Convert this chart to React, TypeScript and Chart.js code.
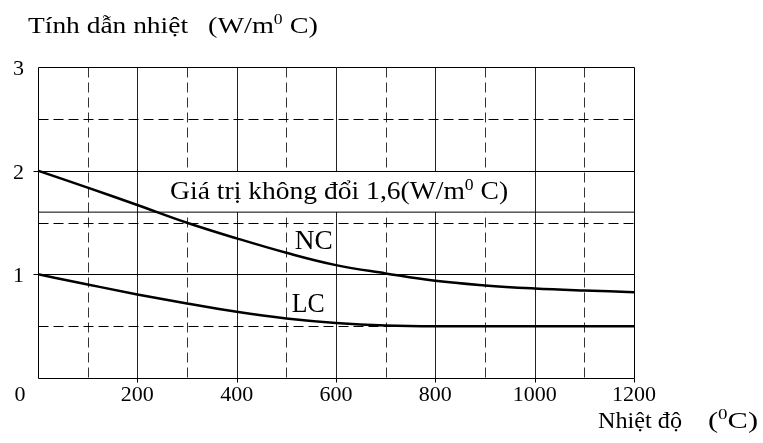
import React, { useEffect, useRef } from "react";
import { Chart, registerables } from "chart.js";

Chart.register(...registerables);

const temps = [0, 100, 200, 300, 400, 500, 600, 700, 800, 900, 1000, 1100, 1200];
const ncValues = [2.0, 1.836, 1.669, 1.498, 1.347, 1.208, 1.089, 1.009, 0.937, 0.893, 0.864, 0.844, 0.828];
const lcValues = [1.0, 0.902, 0.806, 0.719, 0.638, 0.574, 0.531, 0.507, 0.5, 0.5, 0.5, 0.5, 0.5];
const constantValue = 1.6;
const xTickLabels = [200, 400, 600, 800, 1000, 1200];
const yTickLabels = [1, 2, 3];

const FONT = '"Liberation Serif", "Times New Roman", serif';

type Part = { t: string; sup?: boolean };

function drawRich(ctx: CanvasRenderingContext2D, parts: Part[], x: number, baseline: number, size: number, targetWidth?: number) {
  const supSize = Math.round(size * 0.62);
  const widths = parts.map((p) => {
    ctx.font = `${p.sup ? supSize : size}px ${FONT}`;
    return ctx.measureText(p.t).width;
  });
  const total = widths.reduce((a, b) => a + b, 0);
  const sx = targetWidth ? targetWidth / total : 1;
  ctx.save();
  ctx.translate(x, baseline);
  ctx.scale(sx, 1);
  ctx.fillStyle = "#000";
  ctx.textAlign = "left";
  ctx.textBaseline = "alphabetic";
  let cx = 0;
  parts.forEach((p, i) => {
    ctx.font = `${p.sup ? supSize : size}px ${FONT}`;
    ctx.fillText(p.t, cx, p.sup ? -size * 0.36 : 0);
    cx += widths[i];
  });
  ctx.restore();
}

const decorPlugin = {
  id: "decor",
  beforeDatasetsDraw(chart: any) {
    const ctx: CanvasRenderingContext2D = chart.ctx;
    const xs = chart.scales.x;
    const ys = chart.scales.y;
    const L = Math.round(xs.getPixelForValue(0)) + 0.5;
    const R = Math.round(xs.getPixelForValue(1200)) + 0.5;
    const T = Math.round(ys.getPixelForValue(3)) + 0.5;
    const B = Math.round(ys.getPixelForValue(0)) + 0.5;
    ctx.save();
    ctx.lineWidth = 1;
    const line = (x1: number, y1: number, x2: number, y2: number, dashed: boolean, color = "#111") => {
      ctx.beginPath();
      ctx.strokeStyle = color;
      ctx.setLineDash(dashed ? [10, 5] : []);
      ctx.moveTo(x1, y1);
      ctx.lineTo(x2, y2);
      ctx.stroke();
    };
    for (let v = 100; v < 1200; v += 100) {
      const px = Math.round(xs.getPixelForValue(v)) + 0.5;
      const dashed = v % 200 !== 0;
      line(px, T, px, B, dashed, dashed ? "#333" : "#222");
    }
    [0.5, 1, 1.5, 2, 2.5].forEach((v) => {
      const py = Math.round(ys.getPixelForValue(v)) + 0.5;
      line(L, py, R, py, v % 1 !== 0, "#000");
    });
    line(L, T, R, T, false, "#000");
    line(R, T, R, B, false, "#000");
    line(L, T, L, B, false, "#000");
    line(L, B, R, B, false, "#000");
    xTickLabels.forEach((v) => {
      const px = Math.round(xs.getPixelForValue(v)) + 0.5;
      line(px, B, px, B + 4, false, "#000");
    });
    [1, 2].forEach((v) => {
      const py = Math.round(ys.getPixelForValue(v)) + 0.5;
      line(L - 5, py, L, py, false, "#000");
    });
    const bx1 = xs.getPixelForValue(248);
    const bx2 = xs.getPixelForValue(960);
    const by1 = Math.round(ys.getPixelForValue(2)) + 1;
    const by2 = Math.round(ys.getPixelForValue(constantValue));
    ctx.fillStyle = "#fff";
    ctx.fillRect(bx1, by1, bx2 - bx1, by2 - by1);
    ctx.restore();
  },
  afterDraw(chart: any) {
    const ctx: CanvasRenderingContext2D = chart.ctx;
    const xs = chart.scales.x;
    const ys = chart.scales.y;
    ctx.save();
    ctx.fillStyle = "#000";
    ctx.font = `22px ${FONT}`;
    ctx.textAlign = "center";
    ctx.textBaseline = "alphabetic";
    xTickLabels.forEach((v) => {
      ctx.fillText(String(v), xs.getPixelForValue(v), 401);
    });
    ctx.fillText("0", 20, 401);
    ctx.textAlign = "right";
    yTickLabels.forEach((v) => {
      ctx.fillText(String(v), 24, ys.getPixelForValue(v) + 8);
    });
    ctx.restore();
    drawRich(ctx, [{ t: "Tính dẫn nhiệt" }], 28, 33, 24, 160);
    drawRich(ctx, [{ t: "(W/m" }, { t: "0", sup: true }, { t: " C)" }], 208, 33, 24, 110);
    drawRich(ctx, [{ t: "Nhiệt độ" }], 598, 428, 24, 84);
    drawRich(ctx, [{ t: "(" }, { t: "0", sup: true }, { t: "C)" }], 708, 428, 24, 50);
    drawRich(
      ctx,
      [{ t: "Giá trị không đổi 1,6(W/m" }, { t: "0", sup: true }, { t: " C)" }],
      xs.getPixelForValue(266),
      ys.getPixelForValue(1.727),
      25,
      338
    );
    drawRich(ctx, [{ t: "NC" }], xs.getPixelForValue(517), ys.getPixelForValue(1.243), 27, 38);
    drawRich(ctx, [{ t: "LC" }], xs.getPixelForValue(511), ys.getPixelForValue(0.635), 27, 33);
  },
};

export default function App() {
  const ref = useRef<HTMLCanvasElement>(null);
  useEffect(() => {
    if (!ref.current) return;
    const chart = new Chart(ref.current, {
      type: "line",
      data: {
        datasets: [
          {
            label: "NC",
            data: temps.map((t, i) => ({ x: t, y: ncValues[i] })),
            borderColor: "#000",
            borderWidth: 2.5,
            pointRadius: 0,
            tension: 0.4,
            fill: false,
          },
          {
            label: "LC",
            data: temps.map((t, i) => ({ x: t, y: lcValues[i] })),
            borderColor: "#000",
            borderWidth: 2.5,
            pointRadius: 0,
            cubicInterpolationMode: "monotone",
            fill: false,
          },
          {
            label: "const",
            data: [
              { x: 0, y: constantValue },
              { x: 1200, y: constantValue },
            ],
            borderColor: "#000",
            borderWidth: 1,
            pointRadius: 0,
            fill: false,
          },
        ],
      },
      options: {
        responsive: false,
        animation: false,
        layout: { padding: { left: 38, right: 129, top: 67, bottom: 65 } },
        plugins: { legend: { display: false }, tooltip: { enabled: false } },
        scales: {
          x: { type: "linear", min: 0, max: 1200, display: false },
          y: { type: "linear", min: 0, max: 3, display: false },
        },
      },
      plugins: [decorPlugin],
    });
    return () => chart.destroy();
  }, []);
  return (
    <div style={{ position: "absolute", left: 0, top: 0, width: 763, height: 443, background: "#fff" }}>
      <canvas ref={ref} width={763} height={443} style={{ display: "block" }} />
    </div>
  );
}
